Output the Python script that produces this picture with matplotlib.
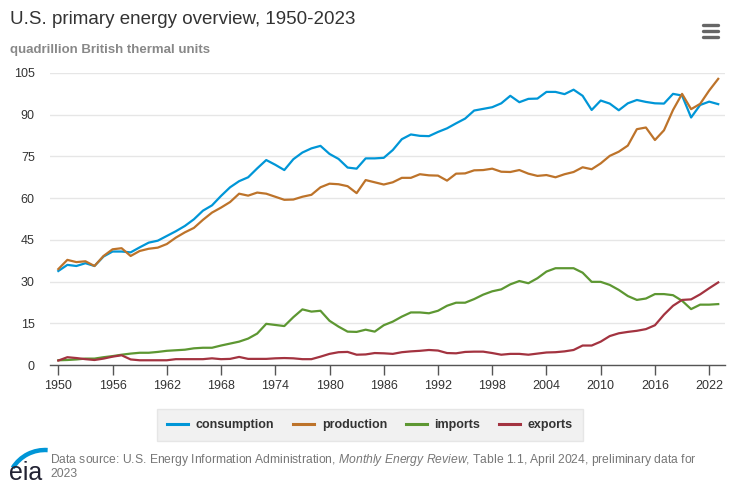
import numpy as np
import matplotlib.pyplot as plt
from matplotlib.lines import Line2D
from matplotlib.patches import Arc

plt.rcParams.update({
    'font.family': ['Liberation Sans', 'DejaVu Sans'],
    'font.size': 9,
    'mathtext.fontset': 'custom',
    'mathtext.rm': 'Liberation Sans',
    'mathtext.it': 'Liberation Sans:italic',
})

# ==========================================
# Data (quadrillion Btu)
# ==========================================
years = np.arange(1950, 2024)

consumption = [
    33.8, 36.0, 35.6, 36.6, 35.6, 39.0, 40.8, 40.8, 40.5, 42.3,  # 1950s
    44.0, 44.7, 46.4, 48.1, 50.0, 52.4, 55.5, 57.4, 60.8, 63.9,  # 1960s
    66.1, 67.5, 70.7, 73.7, 72.0, 70.1, 74.0, 76.4, 77.9, 78.8,  # 1970s
    75.9, 74.1, 71.0, 70.6, 74.3, 74.3, 74.5, 77.3, 81.2, 82.9,  # 1980s
    82.4, 82.3, 83.8, 85.1, 86.9, 88.6, 91.5, 92.1, 92.7, 94.1,  # 1990s
    96.8, 94.5, 95.7, 95.8, 98.2, 98.2, 97.4, 99.0, 96.8, 91.7,  # 2000s
    95.1, 94.0, 91.6, 94.1, 95.3, 94.6, 94.1, 94.0, 97.5, 96.9,  # 2010s
    89.0, 93.5, 94.7, 93.8,                                      # 2020s
]

production = [
    34.5, 37.8, 37.0, 37.3, 35.6, 39.2, 41.6, 42.0, 39.2, 41.0,
    41.8, 42.2, 43.5, 45.8, 47.7, 49.3, 52.2, 54.8, 56.6, 58.6,
    61.6, 60.9, 62.0, 61.6, 60.5, 59.4, 59.5, 60.5, 61.2, 63.9,
    65.2, 65.0, 64.3, 61.8, 66.5, 65.7, 64.9, 65.7, 67.3, 67.3,
    68.6, 68.2, 68.1, 66.3, 68.8, 68.9, 70.0, 70.1, 70.6, 69.5,
    69.4, 70.1, 68.8, 68.0, 68.3, 67.5, 68.6, 69.4, 71.1, 70.4,
    72.5, 75.2, 76.7, 78.9, 84.8, 85.4, 80.9, 84.4, 91.7, 97.5,
    92.0, 93.9, 98.7, 102.9,
]

imports = [
    1.7, 1.8, 2.0, 2.3, 2.3, 2.8, 3.2, 3.7, 4.1, 4.4,
    4.4, 4.7, 5.1, 5.3, 5.5, 6.0, 6.2, 6.2, 7.0, 7.7,
    8.4, 9.5, 11.3, 14.8, 14.4, 14.0, 17.2, 20.0, 19.2, 19.5,
    15.9, 13.8, 12.0, 11.9, 12.7, 12.0, 14.3, 15.6, 17.4, 18.9,
    18.9, 18.6, 19.5, 21.3, 22.4, 22.4, 23.7, 25.3, 26.5, 27.2,
    29.0, 30.2, 29.4, 31.2, 33.6, 34.8, 34.8, 34.8, 33.2, 29.9,
    29.9, 28.8, 27.0, 24.8, 23.4, 23.9, 25.5, 25.5, 25.1, 23.1,
    20.1, 21.7, 21.7, 21.9,
]

exports = [
    1.6, 2.8, 2.5, 2.1, 1.8, 2.3, 3.0, 3.5, 2.0, 1.7,
    1.7, 1.7, 1.7, 2.1, 2.1, 2.1, 2.1, 2.4, 2.1, 2.2,
    2.9, 2.2, 2.2, 2.2, 2.4, 2.5, 2.4, 2.1, 2.1, 3.0,
    4.0, 4.6, 4.7, 3.7, 3.8, 4.3, 4.2, 4.0, 4.6, 4.9,
    5.1, 5.4, 5.2, 4.3, 4.2, 4.7, 4.8, 4.8, 4.3, 3.7,
    4.0, 4.0, 3.7, 4.1, 4.5, 4.6, 4.9, 5.4, 7.0, 7.0,
    8.4, 10.4, 11.4, 11.9, 12.3, 12.9, 14.3, 18.1, 21.3, 23.4,
    23.6, 25.4, 27.6, 29.7,
]

series_names = ['consumption', 'production', 'imports', 'exports']
series_colors = ['#0096d7', '#bd732a', '#5d9732', '#a33340']
series_data = [consumption, production, imports, exports]

y_ticks = [0, 15, 30, 45, 60, 75, 90, 105]
x_ticks = list(range(1950, 2023, 6))

# ==========================================
# Figure
# ==========================================
W, H = 741, 483
fig = plt.figure(figsize=(W / 100, H / 100), dpi=100)
ax = fig.add_axes([50 / W, 1 - 365 / H, 675 / W, 292 / H])

for name, color, vals in zip(series_names, series_colors, series_data):
    ax.plot(years, vals, color=color, lw=1.6, label=name,
            solid_joinstyle='round', zorder=3)

ax.set_xlim(1949.08, 2023.75)
ax.set_ylim(0, 105)
ax.set_yticks(y_ticks)
ax.set_xticks(x_ticks)

ax.grid(axis='y', color='#e6e6e6', lw=1.0, zorder=0)
for side in ['top', 'right', 'left']:
    ax.spines[side].set_visible(False)
ax.spines['bottom'].set_color('#555555')
ax.spines['bottom'].set_linewidth(1.0)

ax.tick_params(axis='y', length=0, pad=11, labelsize=9, labelcolor='#333333')
ax.tick_params(axis='x', direction='out', length=7.5, width=1.0,
               color='#555555', pad=3, labelsize=9, labelcolor='#333333')

# Title / subtitle
fig.text(10 / W, 1 - 20 / H, 'U.S. primary energy overview, 1950-2023',
         fontsize=13.5, color='#333333', va='center', ha='left')
fig.text(10 / W, 1 - 50 / H, 'quadrillion British thermal units',
         fontsize=9.5, fontweight='bold', color='#888888', va='center', ha='left')

# Hamburger menu icon
for yy in [25, 31, 37]:
    fig.add_artist(Line2D([703 / W, 718 / W], [1 - yy / H, 1 - yy / H],
                          color='#666666', lw=2.4, solid_capstyle='round'))

# Legend
leg = fig.legend(loc='center', bbox_to_anchor=(370 / W, 1 - 425 / H), ncol=4,
                 frameon=True, fancybox=False, handlelength=1.7,
                 handletextpad=0.6, columnspacing=1.5, borderpad=0.8,
                 prop={'weight': 'bold', 'size': 9})
leg.get_frame().set_facecolor('#eeeeee')
leg.get_frame().set_edgecolor('#e2e2e2')
for t in leg.get_texts():
    t.set_color('#333333')
for h in leg.get_lines():
    h.set_linewidth(2.2)

# Footer: eia logo + data source
logo_ax = fig.add_axes([5 / W, 1 - 482 / H, 45 / W, 37 / H])
logo_ax.set_xlim(0, 45)
logo_ax.set_ylim(0, 37)
logo_ax.axis('off')
logo_ax.add_patch(Arc((40, -6), 76, 76, theta1=86, theta2=148,
                      color='#0096d7', lw=3.2))
logo_ax.text(4, 2.5, 'eia', fontsize=18, color='#222233',
             va='baseline', ha='left')

fig.text(50 / W, 1 - 460 / H,
         'Data source: U.S. Energy Information Administration, '
         r'$\it{Monthly\ Energy\ Review}$'
         ', Table 1.1, April 2024, preliminary data for',
         fontsize=8.75, color='#777777', va='center', ha='left')
fig.text(50 / W, 1 - 474 / H, '2023', fontsize=8.75, color='#777777',
         va='center', ha='left')

fig.savefig('out.png', dpi=100)
